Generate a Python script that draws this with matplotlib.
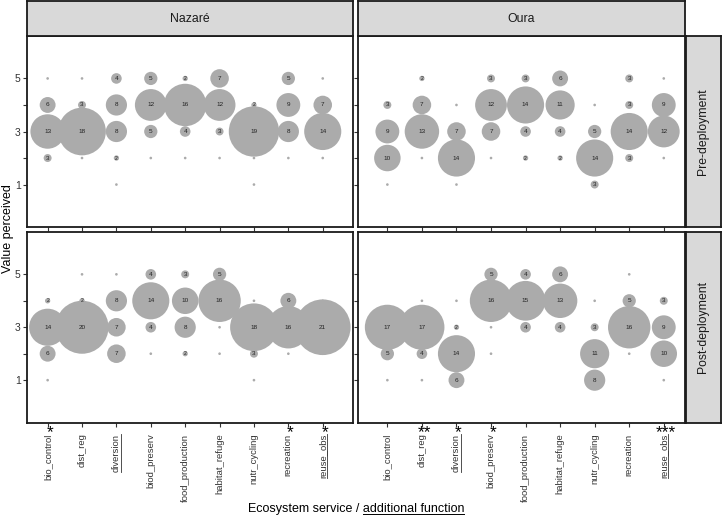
import matplotlib
matplotlib.use("Agg")
import matplotlib.pyplot as plt
from matplotlib.lines import Line2D
import numpy as np

plt.rcParams['font.family'] = ['Liberation Sans', 'DejaVu Sans']

categories = ["bio_control", "dist_reg", "diversion", "biod_preserv", "food_production",
              "habitat_refuge", "nutr_cycling", "recreation", "reuse_obs"]
underlined = ["diversion", "reuse_obs"]
levels = [1, 2, 3, 4, 5]

# counts per category for perceived values 1..5
nazare_pre = [[0, 3, 13, 6, 1], [0, 1, 18, 3, 1], [1, 2, 8, 8, 4], [0, 1, 5, 12, 5],
              [0, 1, 4, 16, 2], [0, 1, 3, 12, 7], [1, 1, 19, 2, 0], [0, 1, 8, 9, 5],
              [0, 1, 14, 7, 1]]
oura_pre = [[1, 10, 9, 3, 0], [0, 1, 13, 7, 2], [1, 14, 7, 1, 0], [0, 1, 7, 12, 3],
            [0, 2, 4, 14, 3], [0, 2, 4, 11, 6], [3, 14, 5, 1, 0], [0, 3, 14, 3, 3],
            [0, 1, 12, 9, 1]]
nazare_post = [[1, 6, 14, 2, 0], [0, 0, 20, 2, 1], [0, 7, 7, 8, 1], [0, 1, 4, 14, 4],
               [0, 2, 8, 10, 3], [0, 1, 1, 16, 5], [1, 3, 18, 1, 0], [0, 1, 16, 6, 0],
               [0, 1, 21, 1, 0]]
oura_post = [[1, 5, 17, 0, 0], [1, 4, 17, 1, 0], [6, 14, 2, 1, 0], [0, 1, 1, 16, 5],
             [0, 0, 4, 15, 4], [0, 0, 4, 13, 6], [8, 11, 3, 1, 0], [0, 1, 16, 5, 1],
             [1, 10, 9, 3, 0]]

sites = ["Nazaré", "Oura"]
periods = ["Pre-deployment", "Post-deployment"]
signif_nazare = {"bio_control": "*", "recreation": "*", "reuse_obs": "*"}
signif_oura = {"dist_reg": "**", "diversion": "*", "biod_preserv": "*", "reuse_obs": "***"}

data = {(0, 0): nazare_pre, (0, 1): oura_pre, (1, 0): nazare_post, (1, 1): oura_post}
signif = [signif_nazare, signif_oura]

W, H = 722, 518
fig = plt.figure(figsize=(W / 100, H / 100), dpi=100)

col_x = [(27, 353), (358, 684.5)]
row_y = [(36, 227), (232, 422.5)]
xlims = [(0.4, 9.88), (0.15, 9.6)]

bubble_color = "#ABABAB"
edge = "#1a1a1a"
strip_fc = "#D9D9D9"
txtc = "#333333"

def fr(x0, y0, x1, y1):
    return [x0 / W, 1 - y1 / H, (x1 - x0) / W, (y1 - y0) / H]

axes = {}
for r in range(2):
    for c in range(2):
        x0, x1 = col_x[c]
        y0, y1 = row_y[r]
        ax = fig.add_axes(fr(x0, y0, x1, y1))
        axes[(r, c)] = ax
        counts = np.array(data[(r, c)])
        xs, ys, ns = [], [], []
        for i, cat in enumerate(categories):
            for j, lv in enumerate(levels):
                n = counts[i, j]
                if n > 0:
                    xs.append(i + 1); ys.append(lv); ns.append(n)
        ns = np.array(ns)
        d_pt = 2.65 * ns * 0.72
        ax.scatter(xs, ys, s=d_pt ** 2, color=bubble_color, linewidths=0, zorder=2)
        for x, y, n in zip(xs, ys, ns):
            if n >= 2:
                ax.text(x, y, str(n), ha="center", va="center",
                        fontsize=3.6 if n == 2 else 4.6, color="#222222", zorder=3)
        ax.set_xlim(*xlims[c])
        ax.set_ylim(-0.6, 6.6)
        ax.set_yticks(levels)
        ax.set_xticks(range(1, len(categories) + 1))
        for s in ax.spines.values():
            s.set_color(edge); s.set_linewidth(1.3)
        ax.tick_params(axis="both", length=3, width=0.8, color=txtc, labelcolor=txtc)
        ax.tick_params(axis="y", pad=1.5)
        if c == 0:
            ax.set_yticklabels(["1", "", "3", "", "5"], fontsize=7.5)
        else:
            ax.set_yticklabels([])
        if r == 1:
            ax.set_xticklabels(categories, rotation=90, fontsize=6.8, va="top", ha="center")
            ax.tick_params(axis="x", pad=5)
            for i, cat in enumerate(categories):
                if cat in signif[c]:
                    ax.annotate(signif[c][cat], xy=(i + 1, 0), xycoords=("data", "axes fraction"),
                                xytext=(1.5, -1.6), textcoords="offset points",
                                ha="center", va="top", fontsize=12.5, color="black")
        else:
            ax.set_xticklabels([])

# top strips
for c in range(2):
    x0, x1 = col_x[c]
    sa = fig.add_axes(fr(x0, 1, x1, 36))
    sa.set_xticks([]); sa.set_yticks([])
    sa.set_facecolor(strip_fc)
    for s in sa.spines.values():
        s.set_color(edge); s.set_linewidth(1.3)
    sa.text(0.5, 0.5, sites[c], ha="center", va="center", fontsize=8.8, color="#1a1a1a",
            transform=sa.transAxes)

# right strips
for r in range(2):
    y0, y1 = row_y[r]
    sa = fig.add_axes(fr(685.5, y0, 721, y1))
    sa.set_xticks([]); sa.set_yticks([])
    sa.set_facecolor(strip_fc)
    for s in sa.spines.values():
        s.set_color(edge); s.set_linewidth(1.3)
    sa.text(0.5, 0.5, periods[r], ha="center", va="center", rotation=90, fontsize=8.8,
            color="#1a1a1a", transform=sa.transAxes)

fig.text(8.5 / W, 1 - 229 / H, "Value perceived", rotation=90, ha="center", va="center",
         fontsize=9, color="black")

xl_full = "Ecosystem service / additional function"
xl_prefix = "Ecosystem service / "
xl = fig.text(356 / W, 1 - 509 / H, xl_full, ha="center", va="center", fontsize=9, color="black")

fig.canvas.draw()
renderer = fig.canvas.get_renderer()
inv = fig.transFigure.inverted()

# underline x-axis title part
bb = xl.get_window_extent(renderer)
tmp = fig.text(0, 0, xl_prefix, fontsize=9)
pw = tmp.get_window_extent(renderer).width
tmp2 = fig.text(0, 0, "Ecosystem service /", fontsize=9)
pw2 = tmp2.get_window_extent(renderer).width
tmp.remove(); tmp2.remove()
start = bb.x0 + max(pw, pw2 + 2.5)
yline = bb.y0 + 1.0
p0 = inv.transform((start, yline)); p1 = inv.transform((bb.x1, yline))
fig.add_artist(Line2D([p0[0], p1[0]], [p0[1], p1[1]], color="black", lw=0.7,
                      transform=fig.transFigure))

# underline rotated tick labels
for c in range(2):
    ax = axes[(1, c)]
    for lab in ax.get_xticklabels():
        if lab.get_text() in underlined:
            b = lab.get_window_extent(renderer)
            xr = b.x1 - 0.2
            q0 = inv.transform((xr, b.y0)); q1 = inv.transform((xr, b.y1))
            fig.add_artist(Line2D([q0[0], q1[0]], [q0[1], q1[1]], color=txtc, lw=0.6,
                                  transform=fig.transFigure))

fig.savefig("out.png", dpi=100)
